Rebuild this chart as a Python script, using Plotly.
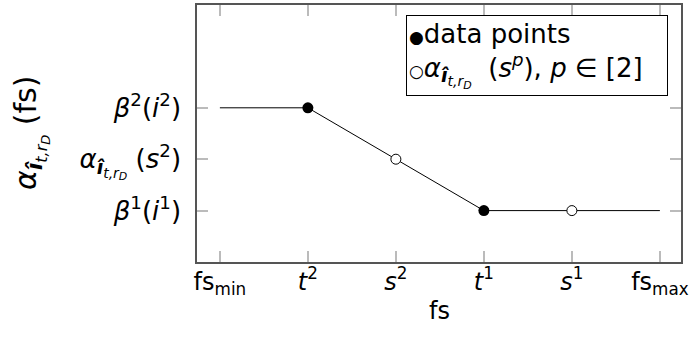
import plotly.graph_objects as go

# data
line_x = [0, 1, 3, 5]
line_y = [3, 3, 1, 1]
data_x = [1, 3]
data_y = [3, 1]
alpha_x = [2, 4]
alpha_y = [2, 1]
x_tickvals = [0, 1, 2, 3, 4, 5]
x_ticktext = ["fs<sub>min</sub>", "<i>t</i><sup>2</sup>", "<i>s</i><sup>2</sup>",
              "<i>t</i><sup>1</sup>", "<i>s</i><sup>1</sup>", "fs<sub>max</sub>"]
y_tickvals = [1, 2, 3]


def alpha(base):
    s1 = round(base * 0.72)
    s2 = round(base * 0.52)
    s3 = round(base * 0.42)
    return ("<i>α</i><sub><span style='font-size:%dpx'><b><i>î</i></b></span>"
            "<sub><span style='font-size:%dpx'><i>t,r</i></span>"
            "<sub><span style='font-size:%dpx'><i>D</i></span></sub></sub></sub>") % (s1, s2, s3)


y_ticktext = ["<i>β</i><sup>1</sup>(<i>i</i><sup>1</sup>)",
              alpha(26) + " (<i>s</i><sup>2</sup>)",
              "<i>β</i><sup>2</sup>(<i>i</i><sup>2</sup>)"]
legend_text = ("<span style='font-size:17px'>●</span>data points<br>"
               "<span style='font-size:17px'>○</span>" + alpha(26)
               + "  (<i>s</i><sup><i>p</i></sup>), <i>p</i> ∈ [2]")
x_title = "fs"
y_title = alpha(30) + " (fs)"

FONT = "DejaVu Sans"
fig = go.Figure()
fig.add_trace(go.Scatter(x=line_x, y=line_y, mode="lines",
                         line=dict(color="black", width=1), showlegend=False))
fig.add_trace(go.Scatter(x=data_x, y=data_y, mode="markers",
                         marker=dict(color="black", size=11), showlegend=False))
fig.add_trace(go.Scatter(x=alpha_x, y=alpha_y, mode="markers",
                         marker=dict(color="white", size=10, line=dict(color="black", width=1)),
                         showlegend=False))

axis_common = dict(showgrid=False, zeroline=False, showline=True, linecolor="#555",
                   linewidth=1.5, mirror="ticks", ticks="inside", ticklen=11,
                   tickcolor="#bbb", tickwidth=1.5)
fig.update_xaxes(range=[-0.26, 5.24], tickvals=x_tickvals, ticktext=x_ticktext,
                 ticklabelstandoff=-3, tickfont=dict(size=24, color="black"),
                 **axis_common)
fig.update_yaxes(range=[0, 5], tickvals=y_tickvals, ticktext=y_ticktext,
                 ticklabelstandoff=9, tickfont=dict(size=26, color="black"),
                 **axis_common)

# axis titles placed as text
fig.add_annotation(x=0.5, y=-0.19, xref="paper", yref="paper", xanchor="center", yanchor="middle",
                   text=x_title, showarrow=False,
                   font=dict(size=24, color="black", family=FONT))
fig.add_annotation(x=-0.344, y=0.5, xref="paper", yref="paper", xanchor="center", yanchor="middle",
                   text=y_title, textangle=-90, showarrow=False,
                   font=dict(size=30, color="black", family=FONT))

fig.add_annotation(x=0.432, y=0.962, xref="paper", yref="paper", xanchor="left", yanchor="top",
                   text=legend_text, showarrow=False, align="left", width=256, height=75,
                   font=dict(size=26, color="black", family=FONT),
                   bordercolor="black", borderwidth=1, borderpad=2, bgcolor="white")

fig.update_layout(width=692, height=347, margin=dict(l=197, r=9, t=3, b=85),
                  plot_bgcolor="white", paper_bgcolor="white",
                  font=dict(family=FONT, color="black"))
fig.write_html("out.html")
